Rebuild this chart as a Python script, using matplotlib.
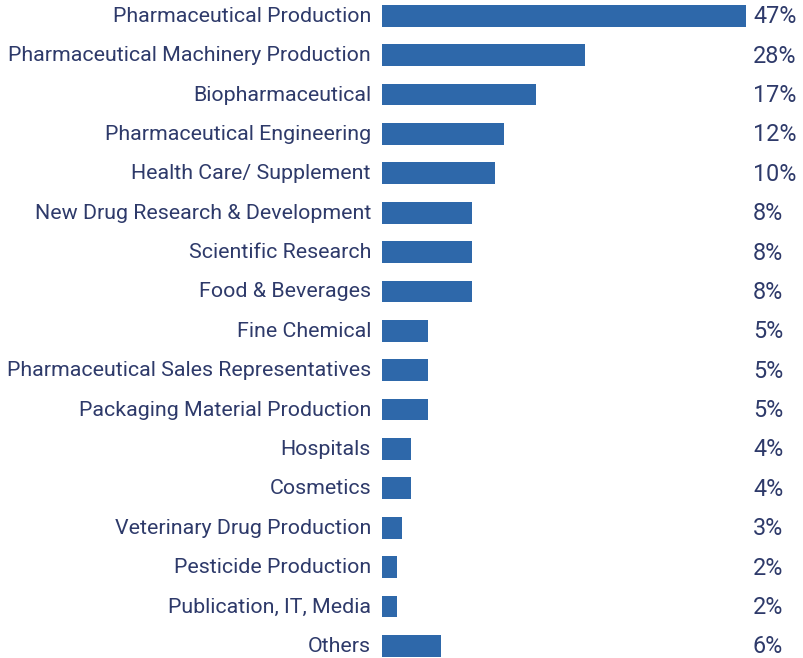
import matplotlib
matplotlib.use("Agg")
import matplotlib.pyplot as plt
import matplotlib.transforms as mtransforms

categories = [
    "Pharmaceutical Production",
    "Pharmaceutical Machinery Production",
    "Biopharmaceutical",
    "Pharmaceutical Engineering",
    "Health Care/ Supplement",
    "New Drug Research & Development",
    "Scientific Research",
    "Food & Beverages",
    "Fine Chemical",
    "Pharmaceutical Sales Representatives",
    "Packaging Material Production",
    "Hospitals",
    "Cosmetics",
    "Veterinary Drug Production",
    "Pesticide Production",
    "Publication, IT, Media",
    "Others",
]
# bar lengths as drawn
bar_values = [47, 26.2, 19.9, 15.75, 14.6, 11.6, 11.6, 11.6, 5.9, 5.9, 5.9,
              3.75, 3.75, 2.6, 1.95, 1.95, 7.6]
pct_labels = ["47%", "28%", "17%", "12%", "10%", "8%", "8%", "8%", "5%", "5%",
              "5%", "4%", "4%", "3%", "2%", "2%", "6%"]

W, H = 804, 658
fig = plt.figure(figsize=(W / 100, H / 100), dpi=100)
fig.patch.set_facecolor("white")

bar_color = "#2E68AA"
text_color = "#2E3A6A"
font = "Roboto"

ax_left = 382 / W
ax_width = 364 / W
top_px = 15.8 - 0.3 * 39.4
bot_px = 645.8 + 0.3 * 39.4
ax = fig.add_axes([ax_left, (H - bot_px) / H, ax_width, (bot_px - top_px) / H])

y = list(range(len(categories)))
ax.barh(y, bar_values, height=0.55, color=bar_color)
ax.set_xlim(0, 47)
ax.set_ylim(len(categories) - 1 + 0.3, -0.3)
ax.axis("off")

label_tr = mtransforms.offset_copy(ax.transData, fig=fig, x=-11, y=-0.5, units="dots")
pct_tr = mtransforms.offset_copy(
    mtransforms.blended_transform_factory(fig.transFigure, ax.transData),
    fig=fig, x=0, y=-1, units="dots")
for yi, cat, p in zip(y, categories, pct_labels):
    ax.text(0, yi, cat, transform=label_tr, ha="right", va="center",
            fontsize=15.4, color=text_color, family=font)
    ax.text(753 / W, yi, p, transform=pct_tr, ha="left", va="center",
            fontsize=16.8, color=text_color, family=font)

fig.savefig("out.png", dpi=100, facecolor="white")
